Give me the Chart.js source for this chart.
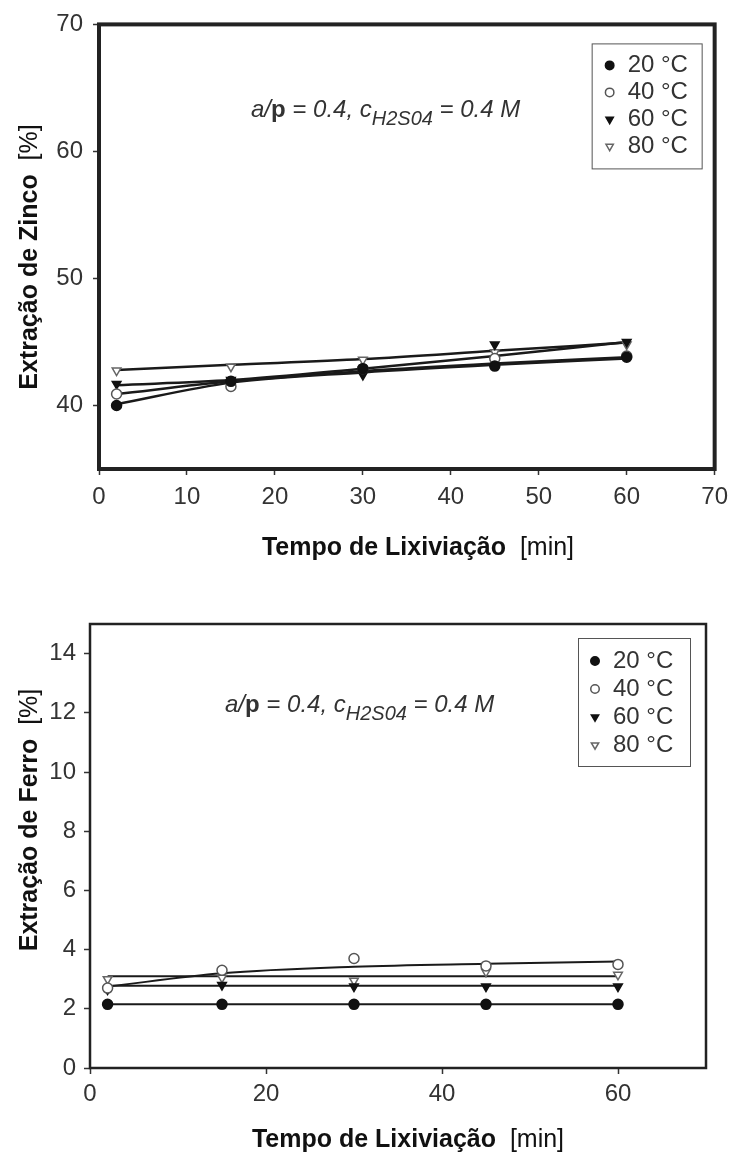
<!DOCTYPE html>
<html>
<head>
<meta charset="utf-8">
<script src="https://cdn.jsdelivr.net/npm/chart.js@4.4.0/dist/chart.umd.min.js"></script>
<style>
	html, body { margin: 0; padding: 0; background: #fff; }
	#boxZinco { position: absolute; left: 0; top: 0; width: 736px; height: 580px; }
	#boxFerro { position: absolute; left: 0; top: 580px; width: 736px; height: 576px; }
</style>
</head>
<body>
<div id="boxZinco"><canvas id="chartZinco" width="736" height="580"></canvas></div>
<div id="boxFerro"><canvas id="chartFerro" width="736" height="576"></canvas></div>
<script>
	//tempo de lixiviação [min]
	var tempos = [2, 15, 30, 45, 60];
	//series (temperatura)
	var series = ['20 °C', '40 °C', '60 °C', '80 °C'];

	//extração de zinco - pontos medidos [%]
	var zinco20 = [40.0, 41.9, 42.9, 43.1, 43.8];
	var zinco40 = [40.9, 41.5, 42.9, 43.7, 43.9];
	var zinco60 = [41.7, 42.0, 42.4, 44.8, 45.0];
	var zinco80 = [42.75, 43.05, 43.6, 44.2, 44.8];
	//extração de zinco - curvas de ajuste
	var ajusteZinco20 = [40.1, 41.8, 42.6, 43.2, 43.7];
	var ajusteZinco40 = [40.9, 41.9, 42.7, 43.3, 43.8];
	var ajusteZinco60 = [41.6, 42.0, 42.9, 43.9, 45.0];
	var ajusteZinco80 = [42.8, 43.2, 43.65, 44.3, 44.95];

	//extração de ferro - pontos medidos [%]
	var ferro20 = [2.15, 2.15, 2.15, 2.15, 2.15];
	var ferro40 = [2.7, 3.3, 3.7, 3.45, 3.5];
	var ferro60 = [2.65, 2.8, 2.75, 2.75, 2.75];
	var ferro80 = [3.0, 3.05, 2.95, 3.25, 3.15];
	//extração de ferro - curvas de ajuste
	var ajusteFerro20 = [2.15, 2.15, 2.15, 2.15, 2.15];
	var ajusteFerro40 = [2.75, 3.2, 3.42, 3.52, 3.6];
	var ajusteFerro60 = [2.78, 2.78, 2.78, 2.78, 2.78];
	var ajusteFerro80 = [3.1, 3.1, 3.1, 3.1, 3.1];

	//ticks
	var zincoTicksX = [0, 10, 20, 30, 40, 50, 60, 70];
	var zincoTicksY = [40, 50, 60, 70];
	var ferroTicksX = [0, 20, 40, 60];
	var ferroTicksY = [0, 2, 4, 6, 8, 10, 12, 14];

	var FONTE = 'Arial, "Liberation Sans", Helvetica, sans-serif';

	//marcadores
	var estilos = [
		{ forma: 'circle', rot: 0, fundo: '#111', borda: '#111' },
		{ forma: 'circle', rot: 0, fundo: '#fff', borda: '#555' },
		{ forma: 'triangle', rot: 180, fundo: '#111', borda: '#111' },
		{ forma: 'triangle', rot: 180, fundo: '#fff', borda: '#666' }
	];

	function pontos(ys) {
		return tempos.map(function(t, i) { return { x: t, y: ys[i] }; });
	}

	function montaDatasets(medidos, ajustes, larguraLinha) {
		var ds = [];
		for (var i = 0; i < medidos.length; i++) {
			var e = estilos[i];
			ds.push({
				label: series[i],
				data: pontos(medidos[i]),
				showLine: false,
				pointStyle: e.forma,
				pointRotation: e.rot,
				pointRadius: 5,
				pointBorderWidth: 1.5,
				pointBackgroundColor: e.fundo,
				pointBorderColor: e.borda,
				backgroundColor: e.fundo,
				borderColor: e.borda,
				order: 0
			});
		}
		for (var j = 0; j < ajustes.length; j++) {
			ds.push({
				label: 'ajuste',
				data: pontos(ajustes[j]),
				showLine: true,
				borderColor: '#1a1a1a',
				borderWidth: larguraLinha,
				pointRadius: 0,
				cubicInterpolationMode: 'monotone',
				fill: false,
				order: 1
			});
		}
		return ds;
	}

	//texto com varios estilos
	function desenhaTrechos(ctx, x, y, trechos, centro) {
		var total = 0;
		trechos.forEach(function(t) { ctx.font = t.f; total += ctx.measureText(t.t).width; });
		var cx = centro ? x - total / 2 : x;
		trechos.forEach(function(t) {
			ctx.font = t.f;
			ctx.fillText(t.t, cx, y + (t.dy || 0));
			cx += ctx.measureText(t.t).width;
		});
	}

	var molduraPlugin = {
		id: 'moldura',
		beforeDraw: function(chart, args, o) {
			var a = chart.chartArea, lg = chart.legend;
			var bx = a.right - o.caixa.dx - o.caixa.w;
			var by = a.top + o.caixa.dy;
			var pad = chart.options.plugins.legend.labels.padding;
			lg.left = bx + o.caixa.mx - 6 - pad;
			lg.top = by + o.caixa.my - 12 - pad;
			lg.width = o.caixa.w;
			lg.height = o.caixa.h;
			lg.right = lg.left + lg.width;
			lg.bottom = lg.top + lg.height;
		},
		afterDraw: function(chart, args, o) {
			var ctx = chart.ctx, a = chart.chartArea;
			ctx.save();
			//moldura do grafico
			ctx.strokeStyle = '#222';
			ctx.lineWidth = o.borda;
			ctx.strokeRect(a.left, a.top, a.right - a.left, a.bottom - a.top);
			//caixa da legenda
			ctx.lineWidth = 1;
			ctx.strokeStyle = '#555';
			ctx.strokeRect(a.right - o.caixa.dx - o.caixa.w + 0.5, a.top + o.caixa.dy + 0.5, o.caixa.w, o.caixa.h);
			//anotação
			ctx.fillStyle = '#333';
			ctx.textBaseline = 'alphabetic';
			desenhaTrechos(ctx, o.nota.x, o.nota.y, [
				{ t: 'a/', f: 'italic 24px ' + FONTE },
				{ t: 'p', f: 'bold 24px ' + FONTE },
				{ t: ' = 0.4, c', f: 'italic 24px ' + FONTE },
				{ t: 'H2S04', f: 'italic 20px ' + FONTE, dy: 8 },
				{ t: ' = 0.4 M', f: 'italic 24px ' + FONTE }
			], false);
			//titulos dos eixos
			ctx.fillStyle = '#111';
			ctx.textBaseline = 'middle';
			desenhaTrechos(ctx, o.tituloX.x, o.tituloX.y, [
				{ t: 'Tempo de Lixiviação', f: 'bold 25px ' + FONTE },
				{ t: '  [min]', f: '25px ' + FONTE }
			], true);
			ctx.translate(o.tituloY.x, o.tituloY.y);
			ctx.rotate(-Math.PI / 2);
			desenhaTrechos(ctx, 0, 0, [
				{ t: o.tituloY.texto, f: 'bold 25px ' + FONTE },
				{ t: '  [%]', f: '25px ' + FONTE }
			], true);
			ctx.restore();
		}
	};

	function eixo(min, max, ticks, tamanho, vertical, pad) {
		return {
			type: 'linear',
			min: min,
			max: max,
			afterBuildTicks: function(s) {
				s.ticks = ticks.map(function(v) { return { value: v }; });
			},
			afterFit: function(s) {
				if (vertical) s.width = tamanho; else s.height = tamanho;
			},
			grid: { display: true, drawOnChartArea: false, drawTicks: true, tickLength: 6, tickWidth: 1.5, tickColor: '#333' },
			border: { display: false },
			ticks: {
				color: '#333',
				padding: pad,
				font: { family: FONTE, size: 24 },
				maxRotation: 0,
				autoSkip: false,
				callback: function(v) { return String(v); }
			}
		};
	}

	function opcoesLegenda(pad) {
		return {
			display: true,
			position: 'chartArea',
			align: 'start',
			filter: null,
			labels: {
				usePointStyle: true,
				boxWidth: 12,
				boxHeight: 6,
				padding: pad,
				color: '#333',
				font: { family: FONTE, size: 24 },
				filter: function(item) { return item.datasetIndex < 4; }
			}
		};
	}

	//grafico zinco
	var ctx = document.getElementById('chartZinco').getContext('2d');
	var chartZinco = new Chart(ctx, {
		type: 'scatter',
		data: {
			datasets: montaDatasets([zinco20, zinco40, zinco60, zinco80],
				[ajusteZinco20, ajusteZinco40, ajusteZinco60, ajusteZinco80], 2.5)
		},
		options: {
			responsive: false,
			animation: false,
			devicePixelRatio: 1,
			layout: { padding: { left: 0, right: 20, top: 24, bottom: 0 } },
			scales: {
				x: eixo(0, 70, zincoTicksX, 111, false, 8),
				y: eixo(35, 70, zincoTicksY, 99, true, 10)
			},
			plugins: {
				legend: opcoesLegenda(3),
				tooltip: { enabled: false },
				moldura: {
					borda: 4,
					caixa: { dx: 13, dy: 19, w: 110, h: 125, mx: 18, my: 22 },
					nota: { x: 251, y: 117 },
					tituloX: { x: 418, y: 548 },
					tituloY: { x: 30, y: 257, texto: 'Extração de Zinco' }
				}
			}
		},
		plugins: [molduraPlugin]
	});

	//grafico ferro
	var ctx2 = document.getElementById('chartFerro').getContext('2d');
	var chartFerro = new Chart(ctx2, {
		type: 'scatter',
		data: {
			datasets: montaDatasets([ferro20, ferro40, ferro60, ferro80],
				[ajusteFerro20, ajusteFerro40, ajusteFerro60, ajusteFerro80], 2)
		},
		options: {
			responsive: false,
			animation: false,
			devicePixelRatio: 1,
			layout: { padding: { left: 0, right: 30, top: 44, bottom: 0 } },
			scales: {
				x: eixo(0, 70, ferroTicksX, 88, false, 6),
				y: eixo(0, 15, ferroTicksY, 90, true, 8)
			},
			plugins: {
				legend: opcoesLegenda(4),
				tooltip: { enabled: false },
				moldura: {
					borda: 2.5,
					caixa: { dx: 16, dy: 14, w: 112, h: 128, mx: 17, my: 23 },
					nota: { x: 225, y: 132 },
					tituloX: { x: 408, y: 560 },
					tituloY: { x: 30, y: 240, texto: 'Extração de Ferro' }
				}
			}
		},
		plugins: [molduraPlugin]
	});
</script>
</body>
</html>
